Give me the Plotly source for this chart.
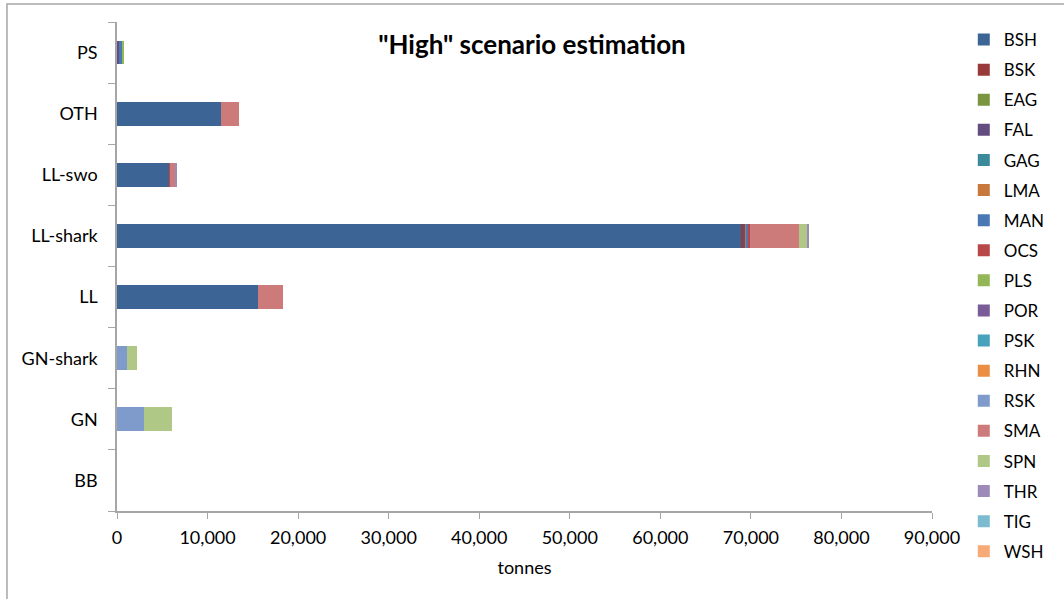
import plotly.graph_objects as go

# Fleet segments (bottom to top on the category axis)
fleets = ["BB", "GN", "GN-shark", "LL", "LL-shark", "LL-swo", "OTH", "PS"]

# Species codes in legend / stacking order
species = ["BSH", "BSK", "EAG", "FAL", "GAG", "LMA", "MAN", "OCS", "PLS",
           "POR", "PSK", "RHN", "RSK", "SMA", "SPN", "THR", "TIG", "WSH"]

colors = ["#3C6595", "#983A3A", "#7A9440", "#634C7F", "#3A8A9A", "#C8783A",
          "#4A78B4", "#B84747", "#93B656", "#7A5C99", "#47A3BC", "#EB8E43",
          "#7E9BCB", "#CD7B7A", "#AFC885", "#9C8AB8", "#7DBBD0", "#F7AA78"]

# Estimated catch (tonnes) per species, values in the order of `fleets`
BSH = [0, 0, 0, 15530, 69000, 5800, 11450, 0]
BSK = [0, 0, 0, 0, 150, 0, 0, 0]
EAG = [0, 0, 0, 0, 0, 0, 0, 0]
FAL = [0, 0, 0, 0, 200, 0, 0, 220]
GAG = [0, 0, 0, 0, 0, 0, 0, 0]
LMA = [0, 0, 0, 0, 150, 40, 0, 0]
MAN = [0, 0, 0, 0, 150, 0, 0, 420]
OCS = [0, 0, 0, 0, 250, 40, 0, 0]
PLS = [0, 0, 0, 0, 0, 0, 0, 60]
POR = [0, 0, 0, 0, 0, 0, 0, 0]
PSK = [0, 0, 0, 0, 0, 0, 0, 0]
RHN = [0, 0, 0, 0, 0, 0, 0, 0]
RSK = [0, 3010, 1100, 0, 0, 0, 0, 0]
SMA = [0, 0, 0, 2790, 5410, 550, 2050, 0]
SPN = [0, 3030, 1140, 0, 960, 50, 0, 0]
THR = [0, 0, 0, 0, 110, 80, 0, 0]
TIG = [0, 0, 0, 0, 0, 0, 0, 0]
WSH = [0, 0, 0, 0, 0, 0, 0, 0]

series = [BSH, BSK, EAG, FAL, GAG, LMA, MAN, OCS, PLS,
          POR, PSK, RHN, RSK, SMA, SPN, THR, TIG, WSH]

FONT = "Lato, 'Open Sans', sans-serif"

fig = go.Figure()
for name, vals, col in zip(species, series, colors):
    fig.add_trace(go.Bar(
        y=fleets, x=vals, name=name, orientation="h",
        marker=dict(color=col, line=dict(width=0)),
        legendgroup=name,
    ))

fig.update_layout(
    barmode="stack",
    bargap=0.61,
    width=1064, height=599,
    margin=dict(l=117, r=132, t=22, b=88),
    paper_bgcolor="white", plot_bgcolor="white",
    font=dict(family=FONT, size=18, color="#000000"),
    title=dict(text='<b>"High" scenario estimation</b>',
               x=0.5, xanchor="center", y=0.925, yanchor="middle",
               font=dict(family=FONT, size=26, color="#000000")),
    legend=dict(x=1.039, xanchor="left", y=1.0, yanchor="top",
                traceorder="grouped", tracegroupgap=5,
                font=dict(family=FONT, size=17, color="#000000"),
                itemwidth=30, bgcolor="rgba(0,0,0,0)",
                maxheight=598),
    showlegend=True,
)

fig.update_xaxes(
    range=[0, 90000], tickvals=list(range(0, 90001, 10000)),
    tickformat=",d", showgrid=False, zeroline=False,
    showline=True, linecolor="#A6A6A6", linewidth=1.5,
    ticks="outside", ticklen=6, tickcolor="#A6A6A6",
    ticklabelstandoff=4,
    tickfont=dict(family=FONT, size=18),
    title=dict(text="tonnes", font=dict(family=FONT, size=18), standoff=14),
)
fig.update_yaxes(
    categoryorder="array", categoryarray=fleets,
    showgrid=False, showline=True, linecolor="#A6A6A6", linewidth=1.5,
    ticks="outside", ticklen=7, tickcolor="#A6A6A6",
    tickson="boundaries", ticklabelstandoff=14,
    tickfont=dict(family=FONT, size=18),
)

# Chart frame
fig.add_shape(type="rect", xref="paper", yref="paper",
              x0=-0.135, x1=1.3, y0=-0.4, y1=1.037,
              line=dict(color="#A6A6A6", width=1.5), layer="below")

fig.write_html("out.html")
